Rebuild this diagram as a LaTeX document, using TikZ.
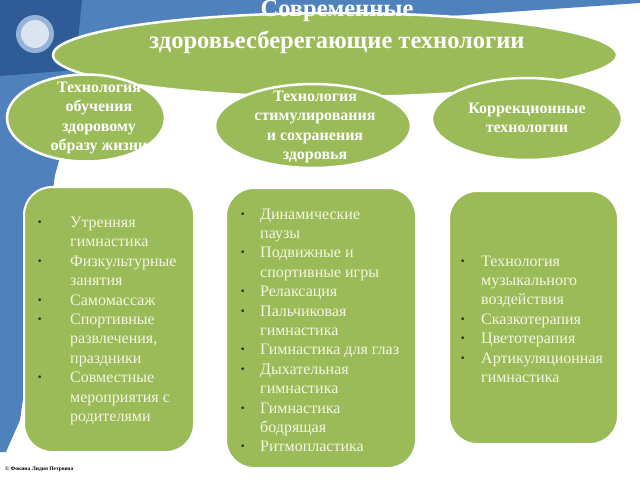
\documentclass[tikz,border=0pt]{standalone}
\usepackage{fontspec}
\setmainfont{Liberation Serif}
\usetikzlibrary{shapes.geometric}
\definecolor{bmid}{HTML}{4F81BD}
\definecolor{bdark}{HTML}{2F5C97}
\definecolor{gr}{HTML}{9BBB59}
\definecolor{cream}{HTML}{F4F6E2}
\definecolor{ringc}{HTML}{95B3D7}
\definecolor{discc}{HTML}{DCE4F2}
\newcommand\bul[1]{\makebox[#1][l]{\textcolor{black!85}{\bfseries ·}}}
\begin{document}
\begin{tikzpicture}[x=1pt,y=-1pt,
  ell/.style={ellipse, draw=white, line width=2.5pt, fill=gr, inner sep=0pt},
  etext/.style={text=white, font=\bfseries\fontsize{16}{19.5}\selectfont, align=center, inner sep=0pt},
  ttext/.style={text=white, font=\bfseries\fontsize{24.5}{32}\selectfont, align=center, inner sep=0pt},
  box/.style={draw=white, line width=2pt, fill=gr, rounded corners=28pt, inner sep=0pt, anchor=north west},
  lst/.style={text=cream, font=\fontsize{16}{19.4}\selectfont, anchor=base west, inner sep=0pt}]
\fill[white] (0,0) rectangle (640,480);
\useasboundingbox (0,0) rectangle (640,480);
% background
\fill[bmid] (0,0) -- (640,0) -- (640,3) -- (450,16) -- (150,45) -- (62,150) -- (55,175) -- (20,420) -- (6,452) -- (0,452) -- cycle;
\fill[bdark] (0,0) -- (82,0) -- (75,70) -- (0,76) -- cycle;
\fill[ringc] (35,34) circle (19);
\fill[discc] (35,34) circle (14);
% title ellipse
\node[ell, minimum width=564pt, minimum height=84pt] (top) at (335,55) {};
\node[ttext] (toptxt) at (337,27) {Современные\\здоровьесберегающие технологии};
% category ellipses
\node[ell, minimum width=158pt, minimum height=87pt] (e1) at (86,118) {};
\node[ell, minimum width=196pt, minimum height=84pt] (e2) at (313,126) {};
\node[ell, minimum width=190pt, minimum height=82pt] (e3) at (527,119) {};
\node[etext] (t1) at (99,118) {Технология\\обучения\\здоровому\\образу жизни};
\node[etext] (t2) at (315,127) {Технология\\стимулирования\\и сохранения\\здоровья};
\node[etext] (t3) at (527,118) {Коррекционные\\технологии};
% boxes
\node[box, minimum width=170pt, minimum height=265pt] (b1) at (23,186) {};
\node[box, minimum width=190pt, minimum height=280pt] (b2) at (225,187) {};
\node[box, minimum width=169pt, minimum height=253pt] (b3) at (448,190) {};
% lists
\node[lst] (l1) at (37,227.5) {\begin{tabular}[t]{@{}l@{}l@{}}
\bul{33pt} & Утренняя\\ & гимнастика\\ \bul{33pt} & Физкультурные\\ & занятия\\ \bul{33pt} & Самомассаж\\ \bul{33pt} & Спортивные\\ & развлечения,\\ & праздники\\ \bul{33pt} & Совместные\\ & мероприятия с\\ & родителями
\end{tabular}};
\node[lst] (l2) at (240,219) {\begin{tabular}[t]{@{}l@{}l@{}}
\bul{20pt} & Динамические\\ & паузы\\ \bul{20pt} & Подвижные и\\ & спортивные игры\\ \bul{20pt} & Релаксация\\ \bul{20pt} & Пальчиковая\\ & гимнастика\\ \bul{20pt} & Гимнастика для глаз\\ \bul{20pt} & Дыхательная\\ & гимнастика\\ \bul{20pt} & Гимнастика\\ & бодрящая\\ \bul{20pt} & Ритмопластика
\end{tabular}};
\node[lst] (l3) at (460,266) {\begin{tabular}[t]{@{}l@{}l@{}}
\bul{21pt} & Технология\\ & музыкального\\ & воздействия\\ \bul{21pt} & Сказкотерапия\\ \bul{21pt} & Цветотерапия\\ \bul{21pt} & Артикуляционная\\ & гимнастика
\end{tabular}};
% footer
\node[anchor=west, inner sep=0pt, font=\bfseries\fontsize{5.5}{6}\selectfont] (ft) at (5,469) {© Фокина Лидия Петровна};
\end{tikzpicture}
\end{document}
